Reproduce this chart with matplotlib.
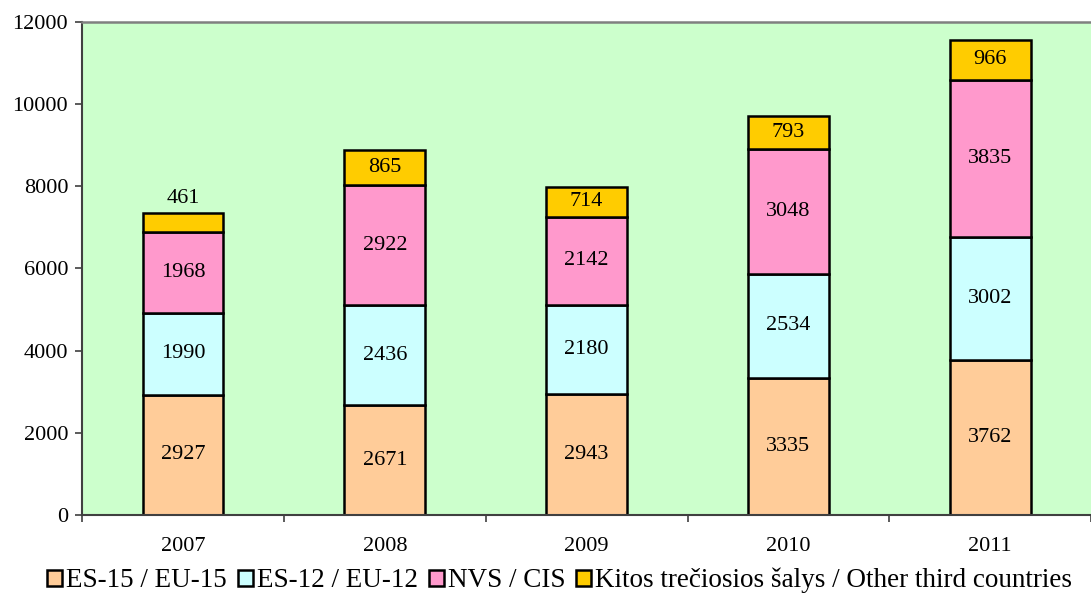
import matplotlib
matplotlib.use('Agg')
import matplotlib.pyplot as plt
import numpy as np

years = ['2007', '2008', '2009', '2010', '2011']
eu15 = [2927, 2671, 2943, 3335, 3762]
eu12 = [1990, 2436, 2180, 2534, 3002]
cis = [1968, 2922, 2142, 3048, 3835]
other = [461, 865, 714, 793, 966]

series = [
    (eu15, '#FFCC99', 'ES-15 / EU-15'),
    (eu12, '#CCFFFF', 'ES-12 / EU-12'),
    (cis, '#FF99CC', 'NVS / CIS'),
    (other, '#FFCC00', 'Kitos trečiosios šalys / Other third countries'),
]

plt.rcParams['font.family'] = ['Liberation Serif', 'DejaVu Serif']

fig = plt.figure(figsize=(10.91, 5.94), dpi=100)
ax = fig.add_axes([0.0752, 0.133, 0.925, 0.83])
ax.set_facecolor('#CCFFCC')

x = np.arange(len(years))
bottom = np.zeros(len(years))
for vals, color, label in series:
    vals = np.array(vals, dtype=float)
    ax.bar(x, vals, width=0.4, bottom=bottom, color=color, edgecolor='black',
           linewidth=1.8, label=label)
    for i, v in enumerate(vals):
        if v < 600:
            ax.text(x[i], bottom[i] + v + 120, f'{int(v)}', ha='center', va='bottom', fontsize=16)
        else:
            ax.text(x[i], bottom[i] + v / 2, f'{int(v)}', ha='center', va='center', fontsize=16)
    bottom += vals

ax.set_xlim(-0.5, 4.45)
ax.set_ylim(0, 12000)
ax.set_yticks(np.arange(0, 12001, 2000))
ax.set_xticks(x)
ax.set_xticklabels(years)
ax.set_xticks(np.arange(-0.5, 4.6, 1), minor=True)
ax.tick_params(axis='x', which='major', length=0, pad=16, labelsize=16)
ax.tick_params(axis='x', which='minor', length=5, width=1.2, direction='out', color='#404040')
ax.tick_params(axis='y', length=5, width=1.2, direction='out', labelsize=16, color='#404040', pad=5)

ax.spines['top'].set_color('#808080')
ax.spines['top'].set_linewidth(1.8)
ax.spines['right'].set_visible(False)
for s in ('left', 'bottom'):
    ax.spines[s].set_color('#404040')
    ax.spines[s].set_linewidth(1.5)

handles, labels = ax.get_legend_handles_labels()
fig.legend(handles, labels, loc='lower center', bbox_to_anchor=(0.513, -0.04), ncol=4,
           frameon=False, fontsize=19.5, handlelength=0.55, handleheight=0.55,
           handletextpad=0.15, columnspacing=0.4)

fig.savefig('out.png', dpi=100)
